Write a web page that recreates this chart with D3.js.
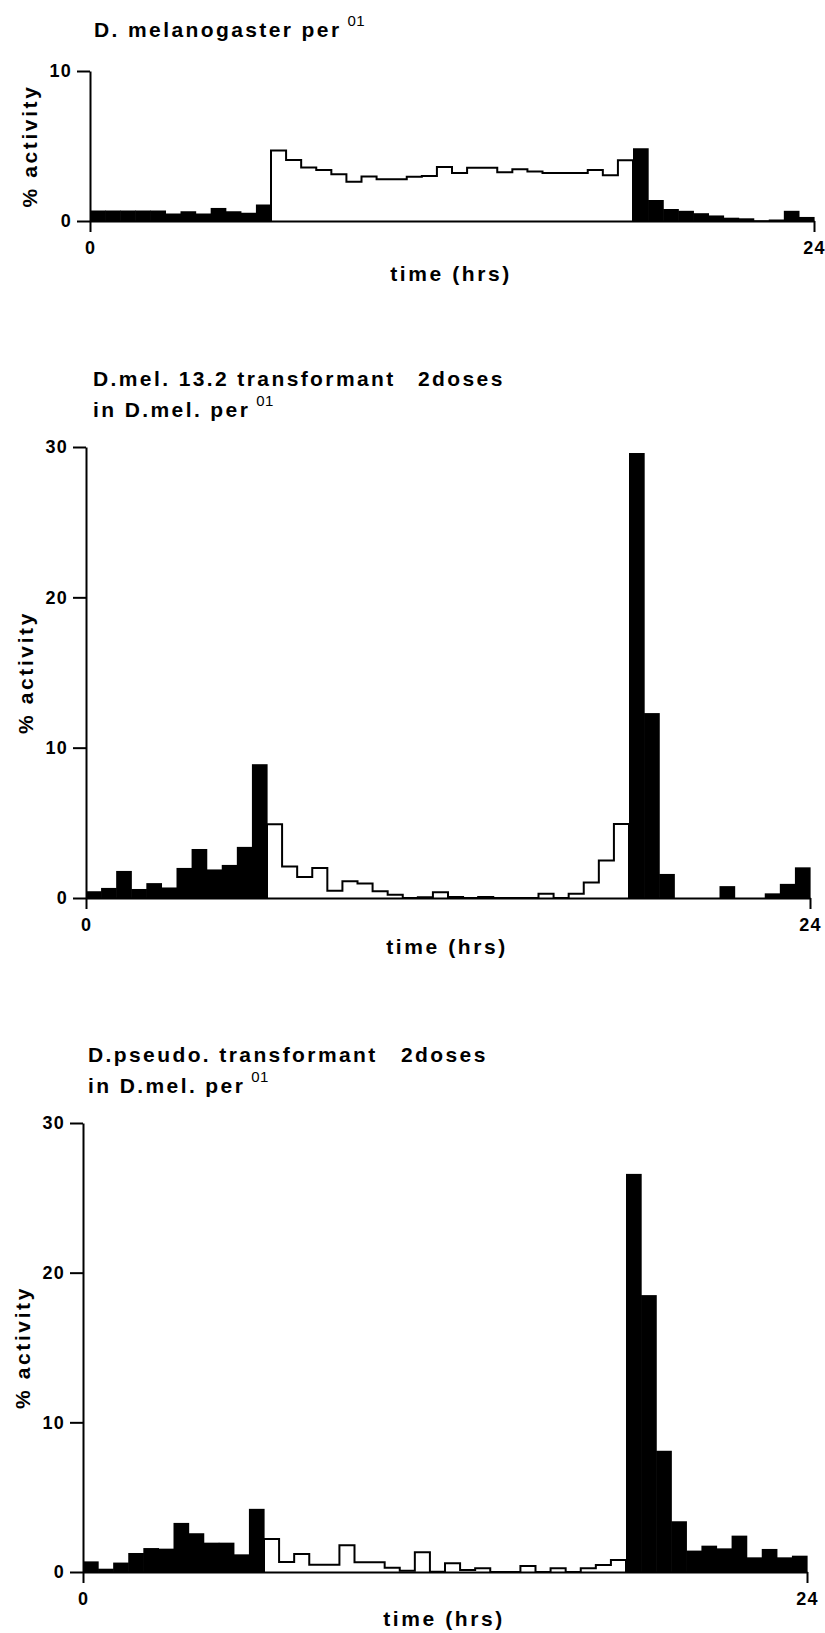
<!DOCTYPE html>
<html>
<head>
<meta charset="utf-8">
<title>per01 activity profiles</title>
<script src="https://cdn.jsdelivr.net/npm/d3@7"></script>
<style>
    body { margin: 0; background: #fff; }
    svg { display: block; font-family: "Liberation Sans", Arial, Helvetica, sans-serif; }
    .title { font-size: 21px; font-weight: bold; letter-spacing: 2.4px; }
    .sup { font-size: 15px; font-weight: normal; letter-spacing: 0.5px; }
    .axis-label { font-size: 21px; font-weight: bold; letter-spacing: 2.6px; }
    .axis path, .axis line { stroke: #000; stroke-width: 2px; }
    .axis text { font-size: 18px; font-weight: bold; fill: #000; letter-spacing: 1.2px; }
    .dark { fill: #000; }
    .light { fill: #fff; stroke: #000; stroke-width: 2px; stroke-linejoin: miter; }
</style>
</head>
<body>
<svg id="chart" width="825" height="1633"></svg>
<script>
// Half-hour bins over the 24 h day, lights on from 6 to 18 h
const binHours = 0.5;
const lightHours = [6, 18];
const xTicks = [0, 24];

// % activity per half-hour bin (48 bins each)
const melPer01 = [
    0.7, 0.7, 0.7, 0.7, 0.7, 0.5, 0.65, 0.5, 0.87, 0.65, 0.55, 1.1,
    4.7, 4.07, 3.56, 3.4, 3.11, 2.62, 2.96, 2.78, 2.78, 2.95, 3.0, 3.6,
    3.2, 3.55, 3.55, 3.25, 3.45, 3.3, 3.2, 3.2, 3.2, 3.4, 3.05, 4.05,
    4.85, 1.4, 0.8, 0.68, 0.52, 0.37, 0.22, 0.18, 0.05, 0.1, 0.68, 0.27
];
const mel132 = [
    0.45, 0.67, 1.8, 0.6, 0.99, 0.7, 2.0, 3.26, 1.9, 2.2, 3.4, 8.9,
    4.9, 2.09, 1.39, 2.0, 0.49, 1.12, 0.97, 0.45, 0.22, 0, 0.05, 0.38,
    0.07, 0, 0.07, 0, 0, 0, 0.29, 0, 0.29, 1.03, 2.49, 4.92,
    29.6, 12.3, 1.6, 0, 0, 0, 0.79, 0, 0, 0.31, 0.94, 2.04
];
const pseudo = [
    0.71, 0.22, 0.63, 1.27, 1.6, 1.56, 3.28, 2.59, 1.96, 1.96, 1.18, 4.22,
    2.21, 0.67, 1.2, 0.49, 0.49, 1.79, 0.65, 0.65, 0.29, 0.09, 1.32, 0.02,
    0.58, 0.13, 0.25, 0, 0, 0.4, 0, 0.25, 0, 0.25, 0.47, 0.8,
    26.6, 18.5, 8.1, 3.39, 1.43, 1.76, 1.58, 2.43, 0.98, 1.54, 0.98, 1.09
];

// y tick values per panel
const yTicks10 = [0, 10];
const yTicks30 = [0, 10, 20, 30];

const svg = d3.select('#chart');

const panels = [
    {
        values: melPer01, yMax: 10, yTicks: yTicks10,
        left: 90, base: 221, top: 71, width: 724,
        titleX: 94, titleY: 37, timeY: 60,
        title: [{ text: 'D. melanogaster per', sup: '01' }],
        extra: null
    },
    {
        values: mel132, yMax: 30, yTicks: yTicks30,
        left: 86, base: 898, top: 447, width: 724,
        titleX: 93, titleY: 386, timeY: 56,
        title: [{ text: 'D.mel. 13.2 transformant' }, { text: 'in D.mel. per', sup: '01' }],
        extra: { text: '2doses', x: 418 }
    },
    {
        values: pseudo, yMax: 30, yTicks: yTicks30,
        left: 83, base: 1572, top: 1123, width: 724,
        titleX: 88, titleY: 1062, timeY: 54,
        title: [{ text: 'D.pseudo. transformant' }, { text: 'in D.mel. per', sup: '01' }],
        extra: { text: '2doses', x: 401 }
    }
];

function drawPanel(p) {
    const g = svg.append('g');

    const x = d3.scaleLinear().domain([0, 24]).range([p.left, p.left + p.width]);
    const y = d3.scaleLinear().domain([0, p.yMax]).range([p.base, p.top]);

    const bins = p.values.map((v, i) => ({ start: i * binHours, end: (i + 1) * binHours, v: v }));
    const isLight = d => d.start >= lightHours[0] && d.end <= lightHours[1];

    // dark-phase bins: solid bars
    g.selectAll('.dark')
        .data(bins.filter(d => !isLight(d)))
        .enter()
        .append('rect')
        .attr('class', 'dark')
        .attr('x', d => x(d.start))
        .attr('width', d => x(d.end) - x(d.start) + 0.6)
        .attr('y', d => y(d.v))
        .attr('height', d => y(0) - y(d.v));

    // light-phase bins: open outline drawn as one step line
    const lightBins = bins.filter(isLight);
    const pts = [[lightBins[0].start, 0]];
    lightBins.forEach(d => pts.push([d.start, d.v]));
    const last = lightBins[lightBins.length - 1];
    pts.push([last.end, last.v], [last.end, 0]);

    const step = d3.line()
        .x(d => x(d[0]))
        .y(d => y(d[1]))
        .curve(d3.curveStepAfter);

    g.append('path')
        .datum(pts)
        .attr('class', 'light')
        .attr('d', step);

    // axes
    g.append('g')
        .attr('class', 'axis')
        .attr('transform', `translate(${p.left},0)`)
        .call(d3.axisLeft(y).tickValues(p.yTicks).tickSize(13).tickSizeOuter(0).tickPadding(5));

    g.append('g')
        .attr('class', 'axis')
        .attr('transform', `translate(0,${p.base})`)
        .call(d3.axisBottom(x).tickValues(xTicks).tickSize(11).tickSizeOuter(0).tickPadding(9));

    // axis labels
    g.append('text')
        .attr('class', 'axis-label')
        .attr('text-anchor', 'middle')
        .attr('transform', `translate(${p.left - 53},${(p.base + p.top) / 2}) rotate(-90)`)
        .text('% activity');

    g.append('text')
        .attr('class', 'axis-label')
        .attr('text-anchor', 'middle')
        .attr('x', p.left + 361)
        .attr('y', p.base + p.timeY)
        .text('time (hrs)');

    // title lines
    p.title.forEach((line, i) => {
        const t = g.append('text')
            .attr('class', 'title')
            .attr('x', p.titleX)
            .attr('y', p.titleY + i * 31);
        t.append('tspan').text(line.text);
        if (line.sup) {
            t.append('tspan')
                .attr('class', 'sup')
                .attr('dx', 6)
                .attr('dy', -11)
                .text(line.sup);
        }
    });

    if (p.extra) {
        g.append('text')
            .attr('class', 'title')
            .attr('x', p.extra.x)
            .attr('y', p.titleY)
            .text(p.extra.text);
    }
}

panels.forEach(drawPanel);
</script>
</body>
</html>
